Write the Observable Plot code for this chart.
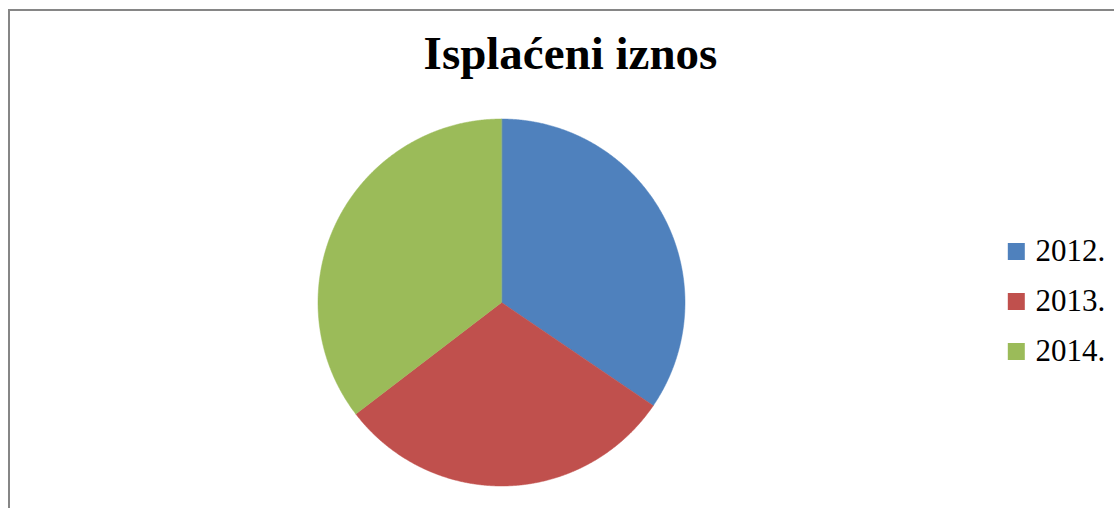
<!DOCTYPE html>
<html>
<head>
<meta charset="utf-8">
<script src="https://cdn.jsdelivr.net/npm/d3@7"></script>
<script src="https://cdn.jsdelivr.net/npm/@observablehq/plot@0.6"></script>
<style>
  html, body { margin: 0; padding: 0; background: #fff; overflow: hidden; }
  #page { position: relative; width: 1114px; height: 508px; overflow: hidden; background: #fff; }
  #frame { position: absolute; left: 8px; top: 9px; width: 1200px; height: 600px;
           border-top: 2px solid #868686; border-left: 2px solid #868686; }
  #title { position: absolute; left: 0; width: 1141px; top: 26px; margin: 0; text-align: center;
           font-family: "Liberation Serif", "Times New Roman", serif; font-weight: bold; font-size: 47px;
           line-height: 54px; color: #000; }
  #chart { position: absolute; left: 0; top: 0; }
  #legend { position: absolute; left: 1007px; top: 200px; }
</style>
</head>
<body>
<div id="page">
  <div id="frame"></div>
  <h2 id="title">Isplaćeni iznos</h2>
  <div id="chart"></div>
  <div id="legend"></div>
</div>
<script>
const years = ["2012.", "2013.", "2014."];
const amounts = [34.5, 30.1, 35.4];
const colors = ["#4F81BD", "#C0504D", "#9BBB59"];

const pie = d3.pie().sort(null).value(d => d.amount)(years.map((year, i) => ({year, amount: amounts[i]})));
const pts = [];
for (const arc of pie) {
  const year = arc.data.year;
  pts.push({year, x: 0, y: 0});
  const n = Math.max(2, Math.ceil((arc.endAngle - arc.startAngle) / 0.005));
  for (let k = 0; k <= n; k++) {
    const a = arc.startAngle + (arc.endAngle - arc.startAngle) * k / n;
    pts.push({year, x: Math.sin(a), y: Math.cos(a)});
  }
}

const cx = 501, cy = 302, r = 183.5;
const chart = Plot.plot({
  width: 1114,
  height: 508,
  margin: 0,
  x: {domain: [-1, 1], range: [cx - r, cx + r], axis: null},
  y: {domain: [-1, 1], range: [cy + r, cy - r], axis: null},
  color: {domain: years, range: colors},
  style: {background: "transparent", overflow: "visible"},
  marks: [
    Plot.line(pts, {x: "x", y: "y", z: "year", fill: "year", stroke: "year", strokeWidth: 0.5, curve: "linear-closed"})
  ]
});
document.getElementById("chart").append(chart);

// legend drawn with Plot marks
const legend = Plot.plot({
  width: 107,
  height: 200,
  margin: 0,
  y: {type: "point", domain: years, range: [50.8, 150.8], padding: 0, axis: null},
  color: {domain: years, range: colors},
  style: {background: "transparent", overflow: "visible"},
  marks: [
    Plot.dot(years, {y: d => d, frameAnchor: "left", dx: 8.8, symbol: "square", r: Math.sqrt(289 / Math.PI), fill: d => d, stroke: null}),
    Plot.text(years, {y: d => d, text: d => d, frameAnchor: "left", dx: 28, textAnchor: "start", fontSize: 31,
      fontFamily: "'Liberation Serif', 'Times New Roman', serif", fill: "#000"})
  ]
});
document.getElementById("legend").append(legend);
</script>
</body>
</html>
